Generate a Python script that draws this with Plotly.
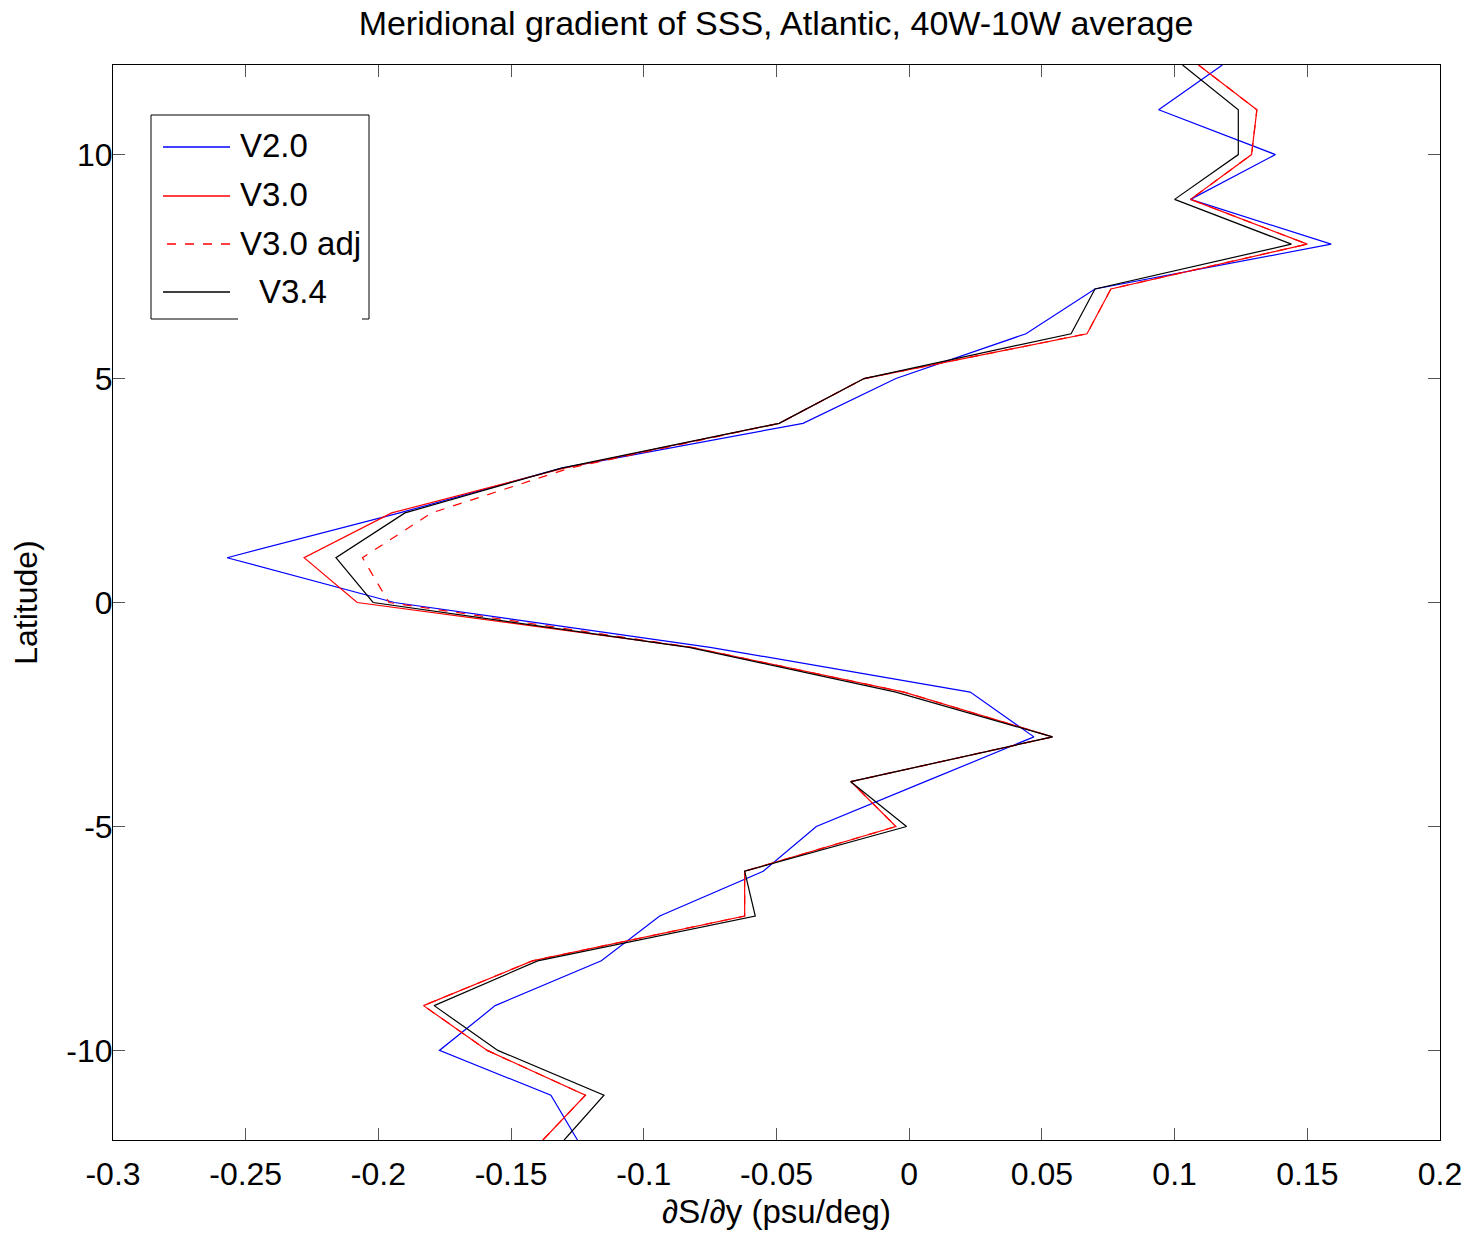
import plotly.graph_objects as go

lat = [-12, -11, -10, -9, -8, -7, -6, -5, -4, -3, -2, -1, 0, 1, 2, 3, 4, 5, 6, 7, 8, 9, 10, 11, 12]

v20 = [-0.125, -0.135, -0.177, -0.156, -0.116, -0.094, -0.055, -0.035, 0.006, 0.047, 0.023, -0.075,
       -0.194, -0.257, -0.192, -0.131, -0.040, -0.005, 0.044, 0.070, 0.159, 0.106, 0.138, 0.094, 0.118]
v30 = [-0.138, -0.122, -0.159, -0.183, -0.142, -0.062, -0.062, -0.005, -0.022, 0.054, -0.002, -0.082,
       -0.208, -0.228, -0.195, -0.130, -0.049, -0.017, 0.067, 0.076, 0.150, 0.106, 0.129, 0.131, 0.109]
v30adj = [-0.138, -0.122, -0.159, -0.183, -0.142, -0.062, -0.062, -0.005, -0.022, 0.054, -0.002, -0.082,
          -0.196, -0.206, -0.180, -0.128, -0.049, -0.017, 0.067, 0.076, 0.150, 0.106, 0.129, 0.131, 0.109]
v34 = [-0.130, -0.115, -0.155, -0.179, -0.140, -0.058, -0.062, -0.001, -0.022, 0.054, -0.005, -0.083,
       -0.202, -0.216, -0.190, -0.131, -0.049, -0.017, 0.061, 0.070, 0.144, 0.100, 0.124, 0.124, 0.103]

series_names = ["V2.0", "V3.0", "V3.0 adj", "V3.4"]
series_colors = ["#0000ff", "#ff0000", "#ff0000", "#000000"]
series_dash = ["solid", "solid", "dash", "solid"]

xticks = [-0.3, -0.25, -0.2, -0.15, -0.1, -0.05, 0, 0.05, 0.1, 0.15, 0.2]
xticklabels = ["-0.3", "-0.25", "-0.2", "-0.15", "-0.1", "-0.05", "0", "0.05", "0.1", "0.15", "0.2"]
yticks = [-10, -5, 0, 5, 10]
yticklabels = ["-10", "-5", "0", "5", "10"]

FONT = "Liberation Sans, Arial, Helvetica, sans-serif"

W, H = 1474, 1233
PL, PR, PT, PB = 113, 1440, 65, 1140  # pixels of the plot area


def px(sx):
    return (sx - PL) / (PR - PL)


def py(sy):
    return (PB - sy) / (PB - PT)


fig = go.Figure()
for vals, nm, col, dsh in zip([v20, v30, v30adj, v34], series_names, series_colors, series_dash):
    fig.add_trace(go.Scatter(x=vals, y=lat, mode="lines", name=nm, showlegend=False,
                             line=dict(color=col, width=1.2, dash=dsh)))

# legend drawn in paper coordinates (MATLAB-style long samples)
shapes = []
annotations = []
box_l, box_r, box_t, box_b = 151, 369, 115, 319
for (x0, y0, x1, y1) in [(box_l, box_t, box_r, box_t), (box_l, box_t, box_l, box_b),
                         (box_r, box_t, box_r, box_b), (box_l, box_b, 238, box_b),
                         (362, box_b, box_r, box_b)]:
    shapes.append(dict(type="line", xref="paper", yref="paper",
                       x0=px(x0), y0=py(y0), x1=px(x1), y1=py(y1),
                       line=dict(color="black", width=1)))
row_y = [147, 196, 244, 292]
text_x = [238, 238, 238, 257]
sample_x0 = [163, 163, 167, 163]
for i, nm in enumerate(series_names):
    shapes.append(dict(type="line", xref="paper", yref="paper",
                       x0=px(sample_x0[i]), y0=py(row_y[i]), x1=px(230), y1=py(row_y[i]),
                       line=dict(color=series_colors[i], width=1.3, dash=series_dash[i])))
    annotations.append(dict(text=nm, xref="paper", yref="paper", x=px(text_x[i]), y=py(row_y[i] - 1),
                            xanchor="left", yanchor="middle", showarrow=False,
                            font=dict(size=33, family=FONT, color="black")))

fig.update_layout(
    width=W, height=H,
    margin=dict(l=PL, r=W - PR, t=PT, b=H - PB),
    paper_bgcolor="white", plot_bgcolor="white",
    font=dict(family=FONT, size=32, color="black"),
    title=dict(text="Meridional gradient of SSS, Atlantic, 40W-10W average",
               x=776 / W, xanchor="center",
               y=1 - 23 / H, yanchor="middle", yref="container",
               font=dict(size=34, family=FONT, color="black")),
    showlegend=False,
    shapes=shapes,
    annotations=annotations,
)

fig.update_xaxes(range=[-0.3, 0.2], tickvals=xticks, ticktext=xticklabels, automargin=False,
                 showgrid=False, zeroline=False, showline=True, linecolor="black", linewidth=1,
                 mirror="ticks", ticks="inside", ticklen=12, tickcolor="#555555",
                 tickfont=dict(size=32), ticklabelstandoff=6,
                 title=dict(text="\u2202S/\u2202y (psu/deg)", font=dict(size=33), standoff=8))
fig.update_yaxes(range=[-12, 12], tickvals=yticks, ticktext=yticklabels, automargin=False,
                 showgrid=False, zeroline=False, showline=True, linecolor="black", linewidth=1,
                 mirror="ticks", ticks="inside", ticklen=12, tickcolor="#555555",
                 tickfont=dict(size=32), ticklabelstandoff=-7,
                 title=dict(text="Latitude)", font=dict(size=32), standoff=19))

fig.write_html("out.html", config={"displayModeBar": False},
               post_script="document.body.style.margin='0';document.body.style.overflow='hidden';")
